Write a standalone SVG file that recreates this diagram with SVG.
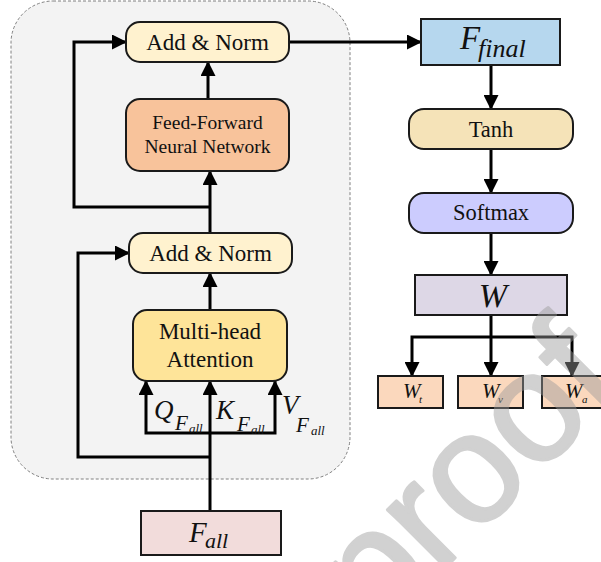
<svg xmlns="http://www.w3.org/2000/svg" width="601" height="562" viewBox="0 0 601 562">
<defs>
<marker id="ah" markerUnits="userSpaceOnUse" markerWidth="15" markerHeight="15" refX="14" refY="7.5" orient="auto">
<path d="M0,0 L15,7.5 L0,15 z" fill="#000"/>
</marker>
<style>
.box{stroke:#1a1a1a;stroke-width:2}
.rbox{stroke:#1a1a1a;stroke-width:2}
.t{font-family:"Liberation Serif","Times New Roman",serif;fill:#111}
.i{font-family:"Liberation Serif","Times New Roman",serif;font-style:italic;fill:#111}
.c{fill:none;stroke:#000;stroke-width:3;stroke-linejoin:miter;marker-end:url(#ah)}
</style>
</defs>
<rect width="601" height="562" fill="#fff"/>
<g id="container">
<rect x="11" y="1" width="339" height="478" rx="42" fill="#f3f3f3" stroke="#808080" stroke-width="1" stroke-dasharray="3 2"/>
</g>
<g id="connectors">
<path class="c" d="M289,42 H421"/>
<path class="c" d="M208,99 V62"/>
<path class="c" d="M210,233 V171"/>
<path class="c" d="M210,207 H74 V42 H126"/>
<path class="c" d="M210,310 V273"/>
<path class="c" d="M210,511 V381"/>
<path class="c" d="M210,433 H146 V381"/>
<path class="c" d="M210,433 H275 V381"/>
<path class="c" d="M210,457 H78 V253 H129"/>
<path class="c" d="M491,65 V109"/>
<path class="c" d="M491,149 V193"/>
<path class="c" d="M491,233 V275"/>
<path class="c" d="M491,315 V376"/>
<path class="c" d="M491,337 H412 V376"/>
<path class="c" d="M491,337 H572 V376"/>
</g>
<g id="addnorm2">
<rect class="rbox" x="126" y="22" width="163" height="40" rx="14" fill="#fff2cf"/>
<text class="t" x="207.5" y="50" font-size="23" text-anchor="middle">Add &amp; Norm</text>
</g>
<g id="ffn">
<rect class="rbox" x="126" y="99" width="163" height="72" rx="14" fill="#f8c39b"/>
<text class="t" x="207.5" y="129" font-size="19.5" text-anchor="middle">Feed-Forward</text>
<text class="t" x="207.5" y="153" font-size="19.5" text-anchor="middle">Neural Network</text>
</g>
<g id="addnorm1">
<rect class="rbox" x="129" y="233" width="163" height="40" rx="14" fill="#fff2cf"/>
<text class="t" x="210.5" y="261" font-size="23" text-anchor="middle">Add &amp; Norm</text>
</g>
<g id="mha">
<rect class="rbox" x="133" y="310" width="154" height="71" rx="14" fill="#fee499"/>
<text class="t" x="210" y="339" font-size="23" text-anchor="middle">Multi-head</text>
<text class="t" x="210" y="367" font-size="23" text-anchor="middle">Attention</text>
</g>
<g id="qkv-labels">
<text class="i" x="154" y="419" font-size="27">Q</text>
<text class="i" x="175" y="430" font-size="21">F</text>
<text class="i" x="189" y="433" font-size="13">all</text>
<text class="i" x="216" y="419" font-size="27">K</text>
<text class="i" x="237" y="431" font-size="21">F</text>
<text class="i" x="251" y="434" font-size="13">all</text>
<text class="i" x="282" y="414" font-size="27">V</text>
<text class="i" x="296" y="432" font-size="21">F</text>
<text class="i" x="311" y="435" font-size="13">all</text>
</g>
<g id="fall">
<rect class="box" x="141" y="511" width="140" height="44" fill="#f2dcdb"/>
<text class="i" x="189" y="542" font-size="29">F</text>
<text class="i" x="205" y="548" font-size="22">all</text>
</g>
<g id="ffinal">
<rect class="box" x="421" y="19" width="139" height="46" fill="#b6d7ee"/>
<text class="i" x="460" y="49" font-size="33">F</text>
<text class="i" x="478" y="57" font-size="26">final</text>
</g>
<g id="tanh">
<rect class="rbox" x="409" y="109" width="164" height="40" rx="15" fill="#f5e3b8"/>
<text class="t" x="491" y="137" font-size="22.5" text-anchor="middle">Tanh</text>
</g>
<g id="softmax">
<rect class="rbox" x="409" y="193" width="164" height="40" rx="15" fill="#ccccfe"/>
<text class="t" x="491" y="220" font-size="22.5" text-anchor="middle">Softmax</text>
</g>
<g id="w">
<rect class="box" x="415" y="275" width="152" height="40" fill="#ddd7e6"/>
<text class="i" x="493" y="307" font-size="34" text-anchor="middle">W</text>
</g>
<g id="wt">
<rect class="box" x="378" y="376" width="65" height="32" fill="#fbd8bd"/>
<text class="i" x="403" y="398" font-size="21">W</text>
<text class="i" x="419" y="403" font-size="11">t</text>
</g>
<g id="wv">
<rect class="box" x="458" y="376" width="65" height="32" fill="#fbd8bd"/>
<text class="i" x="482" y="398" font-size="21">W</text>
<text class="i" x="498" y="403" font-size="11">v</text>
</g>
<g id="wa">
<rect class="box" x="542" y="376" width="65" height="32" fill="#fbd8bd"/>
<text class="i" x="565" y="398" font-size="21">W</text>
<text class="i" x="582" y="403" font-size="11">a</text>
</g>
<g id="watermark" opacity="0.45">
<text x="0" y="0" transform="translate(377,636) rotate(-45)" font-family="'Liberation Sans',Arial,sans-serif" font-size="155" fill="#9a9a9a" stroke="#9a9a9a" stroke-width="3" stroke-linejoin="round">proof</text>
</g>
</svg>
